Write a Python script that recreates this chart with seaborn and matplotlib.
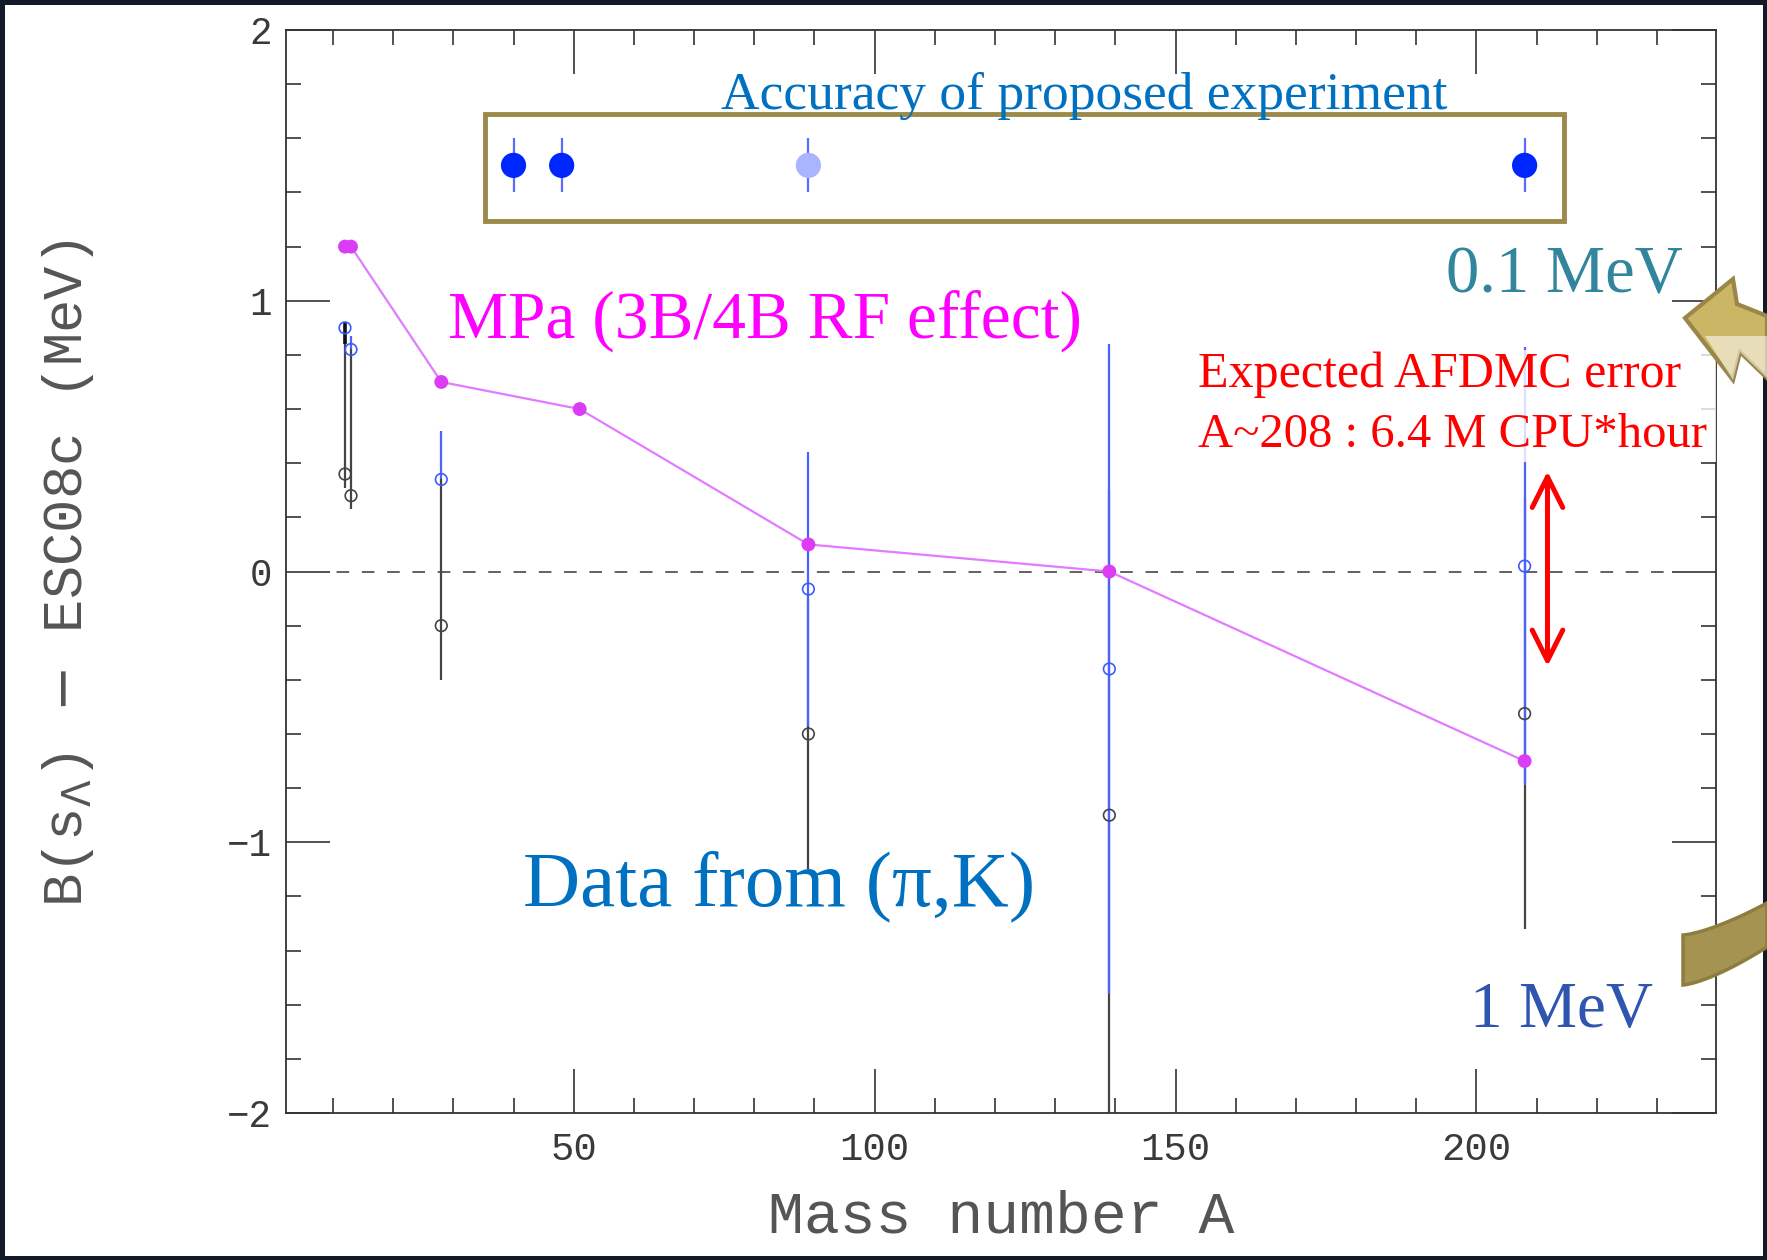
import numpy as np
import pandas as pd
import matplotlib
matplotlib.use("Agg")
import matplotlib.pyplot as plt
import seaborn as sns
from matplotlib.patches import Rectangle, Polygon
from matplotlib.ticker import MultipleLocator

# ---------------- data ----------------
A_mpa = [12, 13, 28, 51, 89, 139, 208]
B_mpa = [1.2, 1.2, 0.7, 0.6, 0.1, 0.0, -0.7]

A_data = [12, 13, 28, 89, 139, 208]
B_blue = [0.90, 0.82, 0.34, -0.065, -0.36, 0.02]
blue_lo = [0.90, 0.82, 0.34, -0.57, -1.56, -0.79]
blue_hi = [0.90, 0.87, 0.52, 0.44, 0.84, 0.83]
B_black = [0.36, 0.28, -0.20, -0.60, -0.90, -0.525]
black_lo = [0.31, 0.23, -0.40, -1.10, -2.10, -1.32]
black_hi = [0.92, 0.82, 0.34, -0.10, 0.30, 0.27]

A_prop = [40, 48, 89, 208]
B_prop = [1.5, 1.5, 1.5, 1.5]
err_prop = [0.1, 0.1, 0.1, 0.1]
kind_prop = ["dark", "dark", "light", "dark"]

x_ticks = [50, 100, 150, 200]
y_ticks = [-2, -1, 0, 1, 2]

W, H = 1767, 1260
def fx(x):
    return x / W
def fy(y):
    return 1 - y / H

sns.set_theme(style="ticks")
plt.rcParams["font.family"] = ["Liberation Mono", "DejaVu Sans"]

fig = plt.figure(figsize=(W / 100, H / 100), dpi=100)
fig.patch.set_facecolor("#131a27")
fig.add_artist(Rectangle((fx(5), fy(1256)), fx(1763) - fx(5), fy(5) - fy(1256),
                         transform=fig.transFigure, facecolor="white",
                         edgecolor="none", zorder=-5))

ax = fig.add_axes([fx(286), fy(1113), fx(1716) - fx(286), fy(30) - fy(1113)])
ax.set_facecolor("white")

# zero line
ax.axhline(0, color="#555555", lw=1.3, ls=(0, (7, 7)), zorder=1)

# error bars: black under blue
ax.vlines(A_data, black_lo, black_hi, colors="#444444", lw=1.6, zorder=2)
ax.vlines(A_data, blue_lo, blue_hi, colors="#4a63ff", lw=1.6, zorder=3)
# heavier top of the C-12 bar
ax.vlines(A_data[:1], [0.84], black_hi[:1], colors="#111111", lw=2.6, zorder=3)

sns.scatterplot(x=A_data, y=B_black, marker="o", s=70, facecolor="none",
                edgecolor="#444444", linewidth=1.2, ax=ax, zorder=4)
sns.scatterplot(x=A_data, y=B_blue, marker="o", s=70, facecolor="none",
                edgecolor="#3d5cff", linewidth=1.2, ax=ax, zorder=4)

# MPa line
sns.lineplot(x=A_mpa, y=B_mpa, color="#e27bff", lw=1.6, sort=False,
             estimator=None, ax=ax, zorder=5)
sns.scatterplot(x=A_mpa, y=B_mpa, color="#dd3cf7", s=100, edgecolor="none",
                ax=ax, zorder=6)

# proposed experiment points
prop = pd.DataFrame({"A": A_prop, "B": B_prop, "kind": kind_prop})
ax.vlines(A_prop, np.array(B_prop) - np.array(err_prop),
          np.array(B_prop) + np.array(err_prop), colors="#5a6cff", lw=1.6, zorder=6)
sns.scatterplot(data=prop, x="A", y="B", hue="kind",
                palette={"dark": "#0026ff", "light": "#a9b5ff"},
                s=330, edgecolor="none", legend=False, ax=ax, zorder=7)

ax.add_patch(Rectangle((35.3, 1.295), 214.5 - 35.3, 1.69 - 1.295, fill=False,
                       edgecolor="#9c8a4b", lw=3.5, zorder=8))

# red double arrow
ax.annotate("", xy=(211.8, 0.37), xytext=(211.8, -0.35),
            arrowprops=dict(arrowstyle="<->,head_length=1.1,head_width=0.55",
                            color="#ff0000", lw=3.6, shrinkA=0, shrinkB=0,
                            mutation_scale=20), zorder=9)

ax.set_xlim(2.2, 239.8)
ax.set_ylim(-2, 2)
ax.xaxis.set_major_locator(MultipleLocator(50))
ax.xaxis.set_minor_locator(MultipleLocator(10))
ax.yaxis.set_major_locator(MultipleLocator(1))
ax.yaxis.set_minor_locator(MultipleLocator(0.2))
ax.set_xticks(x_ticks)
ax.set_yticks(y_ticks)
ax.set_yticklabels([("\u2212" + str(-v)) if v < 0 else str(v) for v in y_ticks])
ax.tick_params(which="both", direction="in", top=True, right=True,
               color="#333333", width=1.2)
ax.tick_params(which="major", length=31.5)
ax.tick_params(which="minor", length=11)
ax.tick_params(axis="y", which="major", labelsize=27, labelcolor="#3a3a3a", pad=10)
ax.tick_params(axis="x", which="major", labelsize=28, labelcolor="#3a3a3a", pad=14)
for s in ax.spines.values():
    s.set_color("#333333")
    s.set_linewidth(1.3)
ax.set_xlabel("")
ax.set_ylabel("")

fig.text(fx(68), fy(573), "B(s$_{\\Lambda}$) $-$ ESC08c (MeV)", rotation=90,
         ha="center", va="center", fontsize=40, color="#555555")
fig.text(fx(1001), fy(1217), "Mass number A", ha="center", va="center",
         fontsize=43, color="#555555")

serif = ["Liberation Serif", "DejaVu Serif"]
fig.add_artist(Rectangle((fx(1190), fy(462)), fx(1716) - fx(1190), fy(350) - fy(462),
                         transform=fig.transFigure, facecolor="white",
                         edgecolor="none", alpha=0.8, zorder=2))
fig.text(fx(721), fy(109), "Accuracy of proposed experiment", ha="left",
         va="baseline", fontsize=38.5, color="#0070c0", family=serif, zorder=3)
fig.text(fx(448), fy(338), "MPa (3B/4B RF effect)", ha="left", va="baseline",
         fontsize=48.5, color="#ff00ff", family=serif, zorder=3)
fig.text(fx(1446), fy(292), "0.1 MeV", ha="left", va="baseline",
         fontsize=48, color="#31859c", family=serif, zorder=3)
fig.text(fx(1198), fy(387), "Expected AFDMC error", ha="left", va="baseline",
         fontsize=36, color="#ff0000", family=serif, zorder=3)
fig.text(fx(1198), fy(447), "A~208 : 6.4 M CPU*hour", ha="left", va="baseline",
         fontsize=35, color="#ff0000", family=serif, zorder=3)
fig.text(fx(523), fy(905), "Data from (\u03c0,K)", ha="left", va="baseline",
         fontsize=57, color="#0070c0", family=serif, zorder=3)
fig.text(fx(1470), fy(1027), "1 MeV", ha="left", va="baseline",
         fontsize=47, color="#2f55b0", family=serif, zorder=3)

# decorative gold arrow ends (curved arrow leaving the slide)
top_arrow = [(1685, 318), (1733, 279), (1737, 304), (1767, 316), (1767, 378),
             (1740, 352), (1733, 380)]
fig.add_artist(Polygon([(fx(x), fy(y)) for x, y in top_arrow], closed=True,
                       transform=fig.transFigure, facecolor="#cbb666",
                       edgecolor="#9a8648", lw=3, zorder=4))
fig.add_artist(Polygon([(fx(x), fy(y)) for x, y in
                        [(1705, 336), (1767, 336), (1767, 378), (1740, 352), (1733, 380)]],
                       closed=True, transform=fig.transFigure, facecolor="white",
                       edgecolor="none", alpha=0.55, zorder=4.5))
xs = np.linspace(1683, 1767, 20)
top_edge = 935 - 32 * ((xs - 1683) / 84) ** 1.4
bot_edge = 985 - 38 * ((xs - 1683) / 84) ** 1.4
band = list(zip(xs, top_edge)) + list(zip(xs[::-1], bot_edge[::-1]))
fig.add_artist(Polygon([(fx(x), fy(y)) for x, y in band], closed=True,
                       transform=fig.transFigure, facecolor="#a59352",
                       edgecolor="#8f7d40", lw=2.5, zorder=4))

fig.savefig("out.png", dpi=100, facecolor=fig.get_facecolor())
